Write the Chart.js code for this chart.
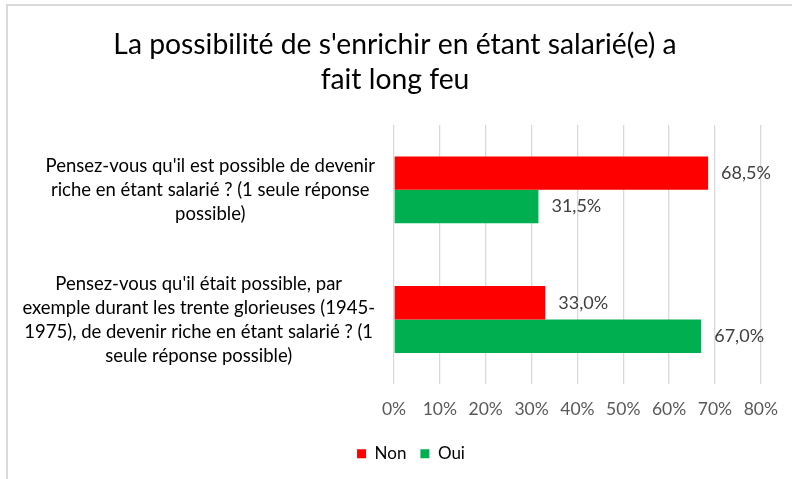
<!DOCTYPE html>
<html>
<head>
<meta charset="utf-8">
<script src="https://cdn.jsdelivr.net/npm/chart.js@4.4.1/dist/chart.umd.min.js"></script>
<style>
  html, body { margin: 0; padding: 0; background: #fff; }
</style>
</head>
<body>
<canvas id="chart" width="792" height="479"></canvas>
<script>
const titleLines = ["La possibilité de s'enrichir en étant salarié(e) a", "fait long feu"];
// category labels, already split like in the picture
const categories = [
  ["Pensez-vous qu'il est possible de devenir", "riche en étant salarié ? (1 seule réponse", "possible)"],
  ["Pensez-vous qu'il était possible, par", "exemple durant les trente glorieuses (1945-", "1975), de devenir riche en étant salarié ? (1", "seule réponse possible)"]
];
const seriesNames = ["Non", "Oui"];
const nonValues = [68.5, 33.0];
const ouiValues = [31.5, 67.0];
const xMin = 0, xMax = 80, xStep = 10;

const FONT = "Lato";
const fmt = v => v.toFixed(1).replace(".", ",") + "%";

const frame = {
  id: "frame",
  beforeDraw(chart) {
    const c = chart.ctx;
    c.save();
    c.fillStyle = "#fff";
    c.fillRect(0, 0, chart.width, chart.height);
    c.strokeStyle = "#d9d9d9";
    c.lineWidth = 2;
    c.strokeRect(7, 5, chart.width, chart.height);
    c.restore();
  }
};

// each label block is centred on its own widest line, right edge near the axis
const catLabels = {
  id: "catLabels",
  afterDraw(chart) {
    const c = chart.ctx, y = chart.scales.y;
    const right = chart.chartArea.left - 19;
    c.save();
    c.font = "18.5px " + FONT;
    c.fillStyle = "#000";
    c.textAlign = "center";
    c.textBaseline = "middle";
    categories.forEach((lines, i) => {
      const w = Math.max(...lines.map(t => c.measureText(t).width));
      const cx = right - w / 2;
      const cy = y.getPixelForTick(i);
      lines.forEach((t, j) => c.fillText(t, cx, cy + (j - (lines.length - 1) / 2) * 24));
    });
    c.restore();
  }
};

const valueLabels = {
  id: "valueLabels",
  afterDatasetsDraw(chart) {
    const c = chart.ctx;
    c.save();
    c.font = "18px " + FONT;
    c.fillStyle = "#404040";
    c.textAlign = "left";
    c.textBaseline = "middle";
    chart.data.datasets.forEach((ds, di) => {
      chart.getDatasetMeta(di).data.forEach((bar, i) => {
        c.fillText(fmt(ds.data[i]), bar.x + 13, bar.y);
      });
    });
    c.restore();
  }
};

// title and legend sit a bit right of the layout centre in the original
const boxShift = {
  id: "boxShift",
  afterLayout(chart) {
    const l = chart.legend, t = chart.titleBlock;
    l.left += 29;
    l.right += 29;
    t.left += 13;
    t.right += 13;
  }
};

new Chart(document.getElementById("chart"), {
  type: "bar",
  data: {
    labels: categories.map(l => l.join(" ")),
    datasets: [
      { label: seriesNames[0], data: nonValues, backgroundColor: "#ff0000" },
      { label: seriesNames[1], data: ouiValues, backgroundColor: "#00b050" }
    ]
  },
  options: {
    indexAxis: "y",
    responsive: false,
    animation: false,
    devicePixelRatio: 1,
    layout: { padding: { top: 0, right: 28, bottom: 6.8, left: 0 } },
    datasets: { bar: { categoryPercentage: 0.516, barPercentage: 1 } },
    scales: {
      y: {
        grid: { display: false },
        border: { display: false },
        ticks: { display: false },
        afterFit(scale) { scale.width = 394; }
      },
      x: {
        min: xMin,
        max: xMax,
        grid: { color: "#d9d9d9", lineWidth: 1.3, drawTicks: false },
        border: { display: false },
        ticks: {
          stepSize: xStep,
          padding: 14,
          color: "#595959",
          font: { family: FONT, size: 17.5 },
          callback: v => v + "%"
        },
        afterFit(scale) { scale.height = 46.8; }
      }
    },
    plugins: {
      title: {
        display: true,
        text: titleLines,
        color: "#000",
        font: { family: FONT, size: 28.3, weight: "normal", lineHeight: 1.237 },
        padding: { top: 27.5, bottom: 27.5 }
      },
      legend: {
        position: "bottom",
        labels: {
          boxWidth: 9,
          boxHeight: 9,
          padding: 14,
          color: "#000",
          font: { family: FONT, size: 17 }
        }
      },
      tooltip: { enabled: false }
    }
  },
  plugins: [frame, catLabels, valueLabels, boxShift]
});
</script>
</body>
</html>
